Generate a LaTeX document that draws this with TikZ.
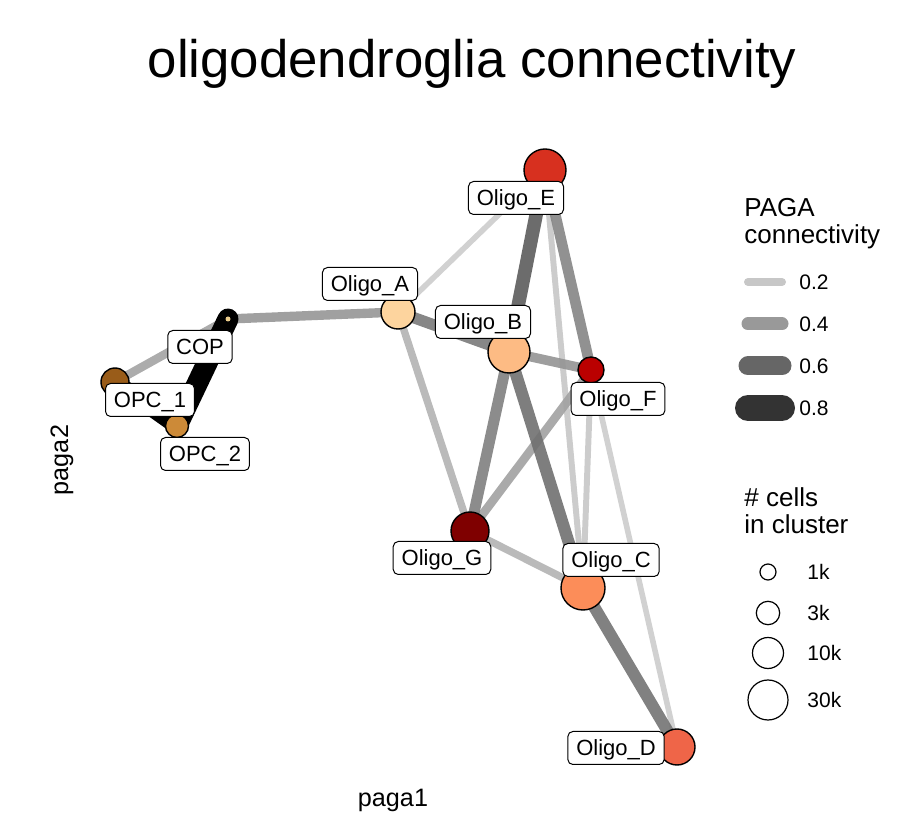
\documentclass[tikz,border=0pt]{standalone}
\usepackage{fontspec}
\setmainfont{Liberation Sans}
\usepackage{xcolor}
\usetikzlibrary{calc}
\definecolor{clE}{RGB}{215,48,31}
\definecolor{clA}{RGB}{253,212,158}
\definecolor{clB}{RGB}{253,187,132}
\definecolor{clC}{RGB}{252,141,89}
\definecolor{clD}{RGB}{239,101,72}
\definecolor{clF}{RGB}{186,0,0}
\definecolor{clG}{RGB}{127,0,0}
\definecolor{clCOP}{RGB}{236,205,140}
\definecolor{clOPCa}{RGB}{153,92,25}
\definecolor{clOPCb}{RGB}{204,138,56}
\tikzset{
  conn/.style={draw=black!#1, line width={(1+0.09*#1)*1pt}, line cap=round, draw opacity=0.9},
  clus/.style={circle, draw=black, line width=0.7pt, inner sep=0pt},
  lab/.style={draw=black, fill=white, rounded corners=2.5pt, line width=0.5pt,
    font=\fontsize{11}{13}\selectfont, inner xsep=4.2pt, inner ysep=0pt,
    minimum height=16.5pt, text height=9pt, text depth=1.6pt},
  legline/.style={line cap=round},
  legttl/.style={font=\fontsize{13}{13.5}\selectfont, align=left, anchor=north west, inner sep=0pt},
  legtxt/.style={font=\fontsize{10.5}{12}\selectfont, anchor=west, inner sep=0pt},
  axlab/.style={font=\fontsize{12.6}{14}\selectfont}
}
\begin{document}
\begin{tikzpicture}[x=0.5pt, y=-0.5pt]
  \useasboundingbox (0,0) rectangle (906,828);
  \node[font=\fontsize{26.4}{30}\selectfont, anchor=base] (title) at (472,78) {oligodendroglia connectivity};

  % cluster positions
  \coordinate (COP) at (228,319);
  \coordinate (OPC1) at (115,382);
  \coordinate (OPC2) at (177,426);
  \coordinate (A) at (398,312);
  \coordinate (B) at (509,352);
  \coordinate (C) at (583,588);
  \coordinate (D) at (677,747);
  \coordinate (E) at (545,170);
  \coordinate (F) at (591,370);
  \coordinate (G) at (470,531);

  % PAGA edges
  \draw[conn=20] (A) -- (E);
  \draw[conn=22] (E) -- (C);
  \draw[conn=22] (F) -- (C);
  \draw[conn=20] (F) -- (D);
  \draw[conn=30] (A) -- (G);
  \draw[conn=30] (G) -- (C);
  \draw[conn=37] (G) -- (F);
  \draw[conn=36] (COP) -- (OPC1);
  \draw[conn=41] (COP) -- (A);
  \draw[conn=52] (A) -- (B);
  \draw[conn=42] (B) -- (F);
  \draw[conn=50] (B) -- (G);
  \draw[conn=48] (E) -- (F);
  \draw[conn=64] (E) -- (B);
  \draw[conn=56] (B) -- (C);
  \draw[conn=55] (C) -- (D);
  \draw[conn=100, draw opacity=1, line width=8.5pt] (OPC1) -- (OPC2);
  \draw[conn=100, draw opacity=1, line width=10.5pt] (COP) -- (OPC2);

  % cluster circles
  \node[clus, fill=clE, minimum size=21pt] (nE) at (E) {};
  \node[clus, fill=clA, minimum size=17pt] (nA) at (A) {};
  \node[clus, fill=clB, minimum size=21pt] (nB) at (B) {};
  \node[clus, fill=clF, minimum size=13pt] (nF) at (F) {};
  \node[clus, fill=clG, minimum size=19pt] (nG) at (G) {};
  \node[clus, fill=clC, minimum size=22pt] (nC) at (C) {};
  \node[clus, fill=clD, minimum size=18pt] (nD) at (D) {};
  \node[clus, fill=clCOP, draw=none, minimum size=2.5pt] (nCOP) at (COP) {};
  \node[clus, fill=clOPCa, minimum size=14pt] (nOPC1) at (OPC1) {};
  \node[clus, fill=clOPCb, minimum size=11.5pt] (nOPC2) at (OPC2) {};

  % cluster labels
  \node[lab] (lE) at ($(E)+(-29,28)$) {Oligo\_E};
  \node[lab] (lA) at ($(A)+(-28,-28)$) {Oligo\_A};
  \node[lab] (lB) at ($(B)+(-26,-30)$) {Oligo\_B};
  \node[lab] (lF) at ($(F)+(27,29)$) {Oligo\_F};
  \node[lab] (lG) at ($(G)+(-28,27)$) {Oligo\_G};
  \node[lab] (lC) at ($(C)+(28,-28)$) {Oligo\_C};
  \node[lab] (lD) at ($(D)+(-61,1)$) {Oligo\_D};
  \node[lab] (lCOP) at ($(COP)+(-28,28)$) {COP};
  \node[lab] (lOPC1) at ($(OPC1)+(35,18)$) {OPC\_1};
  \node[lab] (lOPC2) at ($(OPC2)+(28,28)$) {OPC\_2};

  % axes
  \node[axlab, anchor=base] (xlab) at (393,806) {paga1};
  \node[axlab, rotate=90] (ylab) at (62,460) {paga2};

  % legend: connectivity
  \node[legttl] (lgconn) at (744,198) {PAGA\\connectivity};
  \draw[legline, line width=4pt, draw=black!22] (748,282) -- (782,282);
  \node[legtxt] (w2) at (799,282) {0.2};
  \draw[legline, line width=6.5pt, draw=black!40] (748,324) -- (782,324);
  \node[legtxt] (w4) at (799,324) {0.4};
  \draw[legline, line width=9.5pt, draw=black!60] (748,366) -- (782,366);
  \node[legtxt] (w6) at (799,366) {0.6};
  \draw[legline, line width=13pt, draw=black!80] (748,408) -- (782,408);
  \node[legtxt] (w8) at (799,408) {0.8};

  % legend: cluster size
  \node[legttl] (lgsize) at (744,487) {\# cells\\in cluster};
  \node[clus, line width=0.6pt, minimum size=8pt] (s1) at (768,572) {};
  \node[legtxt] (t1) at (807,572) {1k};
  \node[clus, line width=0.6pt, minimum size=11.7pt] (s3) at (768,613) {};
  \node[legtxt] (t3) at (807,613) {3k};
  \node[clus, line width=0.6pt, minimum size=15.5pt] (s10) at (768,653) {};
  \node[legtxt] (t10) at (807,653) {10k};
  \node[clus, line width=0.6pt, minimum size=20pt] (s30) at (768,700) {};
  \node[legtxt] (t30) at (807,700) {30k};
\end{tikzpicture}
\end{document}
